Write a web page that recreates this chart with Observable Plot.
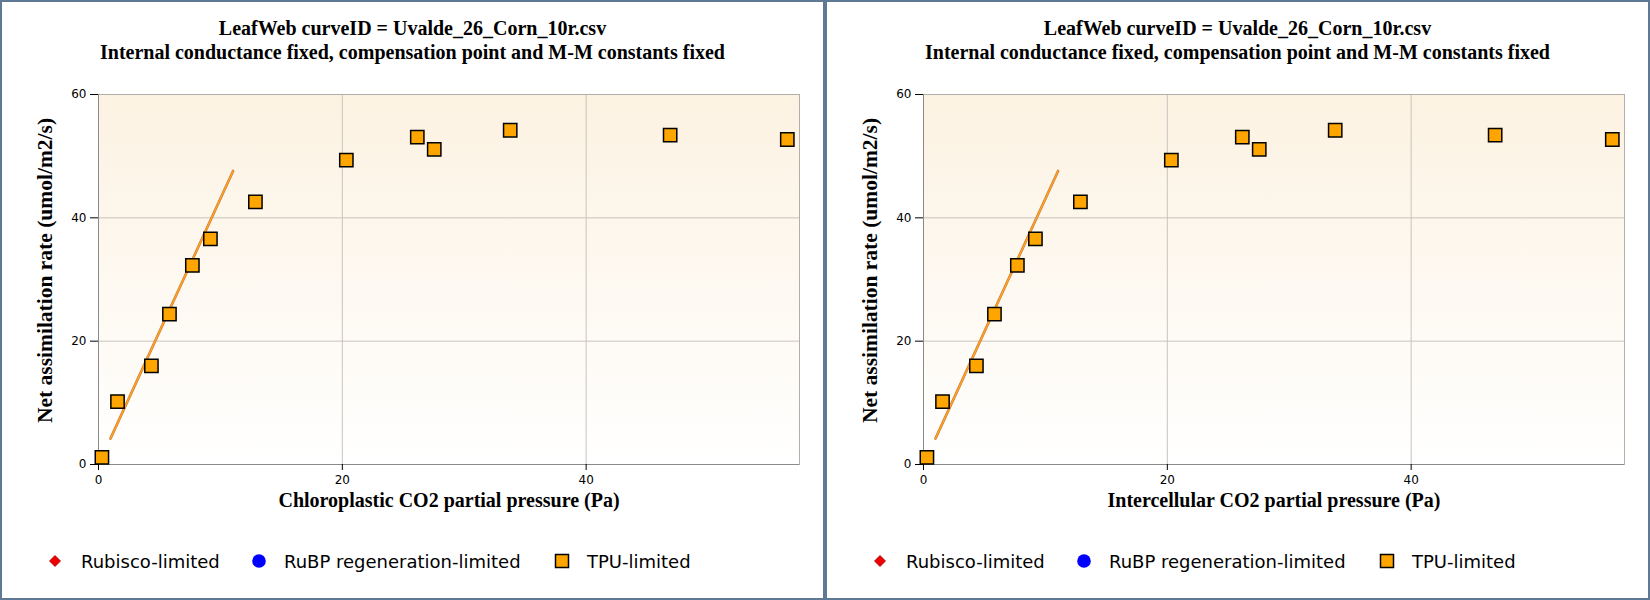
<!DOCTYPE html>
<html><head><meta charset="utf-8">
<script src="https://cdn.jsdelivr.net/npm/d3@7"></script>
<script src="https://cdn.jsdelivr.net/npm/@observablehq/plot@0.6"></script>
<style>
body{margin:0;background:#fff;}
#root{position:relative;width:1650px;height:600px;overflow:hidden;}
.panel{position:absolute;top:0;width:825px;height:600px;box-sizing:border-box;border:2px solid #5f7894;background:#fff;}
.title{position:absolute;left:0;top:14px;width:821px;text-align:center;font-family:"Liberation Serif","Times New Roman",serif;font-weight:bold;font-size:20px;line-height:24px;color:#000;white-space:nowrap;}
.plot{position:absolute;left:0;top:70px;}
.legend{position:absolute;left:0;top:539px;}
</style></head><body><div id="root"></div>
<script>
// ---- data ----
const titleLine1 = "LeafWeb curveID = Uvalde_26_Corn_10r.csv";
const titleLine2 = "Internal conductance fixed, compensation point and M-M constants fixed";
const yLabel = "Net assimilation rate (umol/m2/s)";
const xLabelLeft = "Chloroplastic CO2 partial pressure (Pa)";
const xLabelRight = "Intercellular CO2 partial pressure (Pa)";
const xTicks = [0, 20, 40];
const yTicks = [0, 20, 40, 60];
// observed points (TPU-limited)
const cc = [0.28, 1.56, 4.34, 5.82, 7.70, 9.18, 12.87, 20.33, 26.15, 27.54, 33.77, 46.89, 56.5];
const ci = [0.28, 1.56, 4.34, 5.82, 7.70, 9.18, 12.87, 20.33, 26.15, 27.54, 33.77, 46.89, 56.5];
const anet = [1.15, 10.2, 16.0, 24.4, 32.3, 36.6, 42.6, 49.35, 53.1, 51.1, 54.2, 53.4, 52.7];
// fitted line
const fitX = [0.98, 11.04];
const fitY = [4.2, 47.6];
// legend
const legendNames = ["Rubisco-limited", "RuBP regeneration-limited", "TPU-limited"];

const serif = "'Liberation Serif','Times New Roman',serif";

function makePlot(xs, ys, xLabel, gid) {
  const data = xs.map((x, i) => ({x, y: ys[i]}));
  const fit = fitX.map((x, i) => ({x, y: fitY[i]}));
  const svg = Plot.plot({
    width: 821, height: 458,
    marginLeft: 96, marginRight: 24, marginTop: 22, marginBottom: 66,
    style: {fontFamily: "DejaVu Sans", fontSize: "12px", color: "#000", background: "transparent", overflow: "visible"},
    x: {domain: [0, 57.5]},
    y: {domain: [0, 60]},
    marks: [
      Plot.frame({fill: `url(#${gid})`, stroke: "none"}),
      Plot.gridX(xTicks, {stroke: "#c8c3bd", strokeOpacity: 1}),
      Plot.gridY(yTicks, {stroke: "#c8c3bd", strokeOpacity: 1}),
      Plot.frame({stroke: "#b4aea8"}),
      Plot.ruleX([0], {stroke: "#8a8a8a"}),
      Plot.ruleY([0], {stroke: "#8a8a8a"}),
      Plot.line(fit, {x: "x", y: "y", stroke: "#c07a40", strokeWidth: 2.6}),
      Plot.line(fit, {x: "x", y: "y", stroke: "#ffa020", strokeWidth: 1.6}),
      Plot.dot(data, {x: "x", y: "y", symbol: "square", r: 7.5, fill: "#ffa500", stroke: "#000", strokeWidth: 1.5}),
      Plot.axisX(xTicks, {tickSize: 6, tickPadding: 5, label: null}),
      Plot.axisY(yTicks, {tickSize: 8, tickPadding: 4, label: null}),
      Plot.text([xLabel], {text: d => d, frameAnchor: "bottom", dy: 42, fontFamily: serif, fontWeight: "bold", fontSize: 20, fill: "#000"}),
      Plot.text([yLabel], {text: d => d, frameAnchor: "left", textAnchor: "middle", rotate: -90, dx: -53, dy: -9, fontFamily: serif, fontWeight: "bold", fontSize: 21.5, fill: "#000"})
    ]
  });
  d3.select(svg).insert("defs", ":first-child").html(
    `<linearGradient id="${gid}" x1="0" y1="0" x2="0" y2="1">
       <stop offset="0" stop-color="#fcf2e2"/>
       <stop offset="1" stop-color="#ffffff"/>
     </linearGradient>`);
  return svg;
}

function makeLegend() {
  const svg = d3.create("svg").attr("width", 821).attr("height", 40);
  const cy = 20;
  const markX = [53, 257, 560];
  const textX = [79, 282, 585];
  svg.append("path").attr("d", `M${markX[0]},${cy-5.5}L${markX[0]+5.5},${cy}L${markX[0]},${cy+5.5}L${markX[0]-5.5},${cy}Z`)
    .attr("fill", "#ee0000").attr("stroke", "#a00000").attr("stroke-width", 0.8);
  svg.append("circle").attr("cx", markX[1]).attr("cy", cy).attr("r", 6.8).attr("fill", "#0000ff");
  svg.append("rect").attr("x", markX[2] - 6.5).attr("y", cy - 6.5).attr("width", 13).attr("height", 13)
    .attr("fill", "#ffa500").attr("stroke", "#000").attr("stroke-width", 1.5);
  legendNames.forEach((n, i) => {
    svg.append("text").attr("x", textX[i]).attr("y", cy + 6.5)
      .attr("font-family", "DejaVu Sans").attr("font-size", 18).attr("fill", "#000").text(n);
  });
  return svg.node();
}

const root = document.getElementById("root");
[[cc, xLabelLeft, "bgL", 0], [ci, xLabelRight, "bgR", 825]].forEach(([xs, lab, gid, left]) => {
  const panel = document.createElement("div");
  panel.className = "panel";
  panel.style.left = left + "px";
  const t = document.createElement("div");
  t.className = "title";
  t.innerHTML = `${titleLine1}<br>${titleLine2}`;
  panel.appendChild(t);
  const p = makePlot(xs, anet, lab, gid);
  p.classList.add("plot");
  panel.appendChild(p);
  const lg = makeLegend();
  lg.classList.add("legend");
  panel.appendChild(lg);
  root.appendChild(panel);
});
</script></body></html>
